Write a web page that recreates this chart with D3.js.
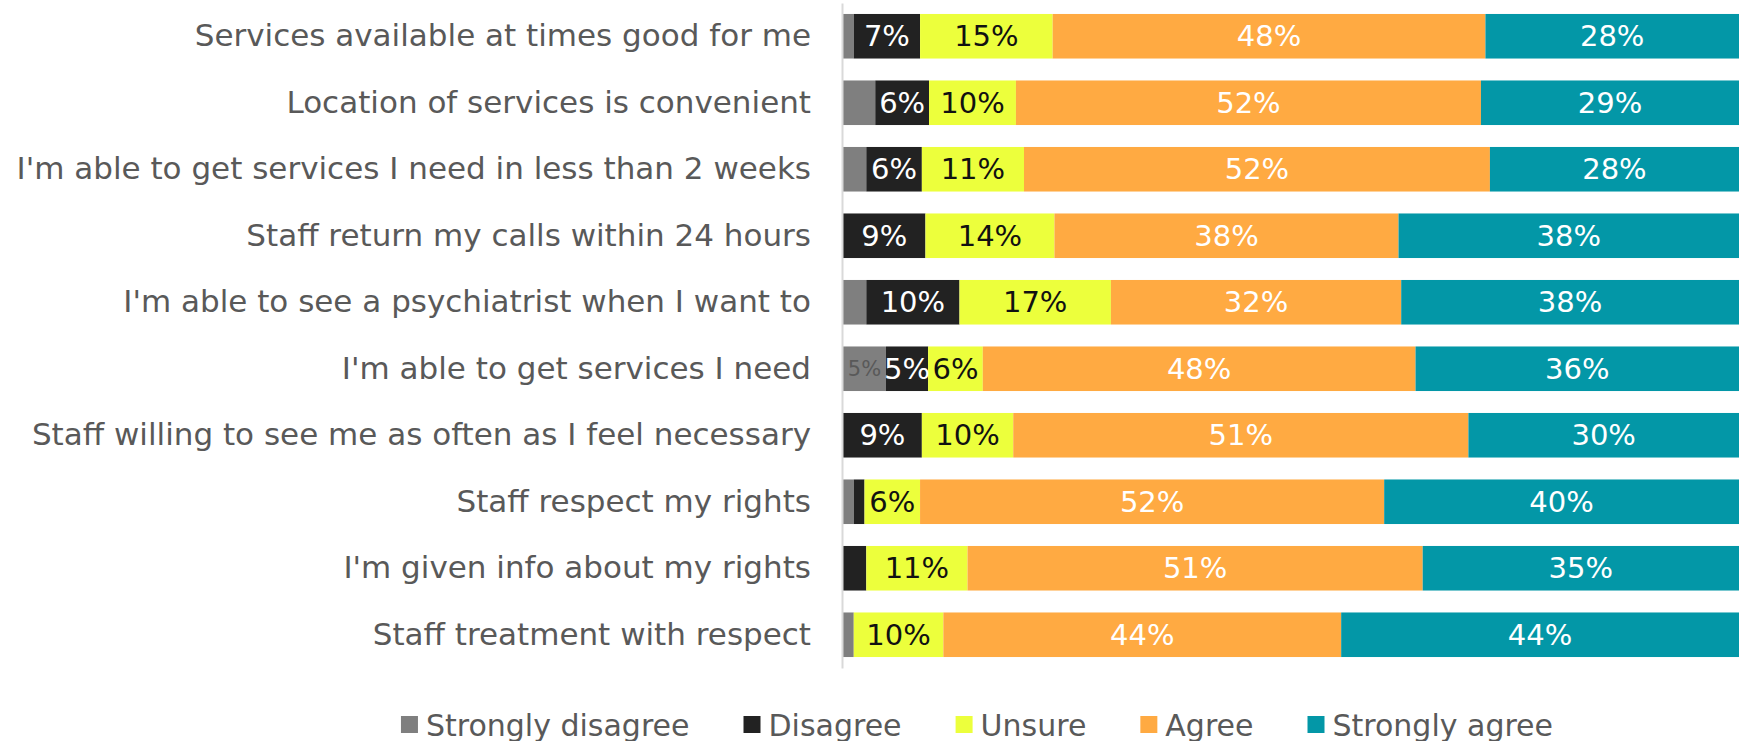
<!DOCTYPE html>
<html>
<head>
<meta charset="utf-8">
<script src="https://cdn.jsdelivr.net/npm/d3@7"></script>
<style>
  html, body { margin: 0; padding: 0; background: #ffffff; }
  svg { display: block; }
  text { font-family: "DejaVu Sans", sans-serif; }
</style>
</head>
<body>
<svg id="chart" width="1744" height="741"></svg>
<script>
// Survey statements, top to bottom
const categories = [
  "Services available at times good for me",
  "Location of services is convenient",
  "I'm able to get services I need in less than 2 weeks",
  "Staff return my calls within 24 hours",
  "I'm able to see a psychiatrist when I want to",
  "I'm able to get services I need",
  "Staff willing to see me as often as I feel necessary",
  "Staff respect my rights",
  "I'm given info about my rights",
  "Staff treatment with respect"
];

// Share of responses (%) per statement
const stronglyDisagree = [1.2, 3.6, 2.6, 0, 2.6, 4.8, 0, 1.2, 0, 1.2];
const disagree         = [7.4, 6.0, 6.2, 9.2, 10.4, 4.7, 8.8, 1.2, 2.6, 0];
const unsure           = [14.8, 9.7, 11.4, 14.4, 16.9, 6.1, 10.2, 6.2, 11.3, 10.0];
const agree            = [48.3, 51.9, 52.0, 38.4, 32.4, 48.3, 50.8, 51.8, 50.8, 44.4];
const stronglyAgree    = [28.3, 28.8, 27.8, 38.0, 37.7, 36.1, 30.2, 39.6, 35.3, 44.4];

const seriesNames = ["Strongly disagree", "Disagree", "Unsure", "Agree", "Strongly agree"];
const seriesValues = [stronglyDisagree, disagree, unsure, agree, stronglyAgree];
const seriesColors = ["#7f7f7f", "#222222", "#ecff3c", "#ffaa42", "#0397a7"];
const labelColors  = ["#595959", "#ffffff", "#111111", "#ffffff", "#ffffff"];
const labelSizes   = [21, 29, 29, 29, 29];

const svg = d3.select("#chart");

const rows = categories.map((c, i) => {
  const r = { category: c };
  seriesNames.forEach((s, k) => { r[s] = seriesValues[k][i]; });
  return r;
});
const stacked = d3.stack().keys(seriesNames)(rows);

const x = d3.scaleLinear().domain([0, 100]).range([843, 1739]);
const y = d3.scaleBand().domain(categories).range([3, 668])
  .paddingInner(0.33).paddingOuter(0.165);

// Segments
const layers = svg.append("g").selectAll("g")
  .data(stacked).join("g")
  .attr("fill", (d, k) => seriesColors[k]);

layers.selectAll("rect")
  .data(d => d.map(p => ({ p, cat: p.data.category })))
  .join("rect")
  .attr("x", d => x(d.p[0]))
  .attr("y", d => y(d.cat))
  .attr("width", d => Math.max(0, x(d.p[1]) - x(d.p[0])))
  .attr("height", y.bandwidth());

// Value labels (segments of roughly 5% and up)
const labelLayers = svg.append("g").selectAll("g")
  .data(stacked).join("g")
  .attr("fill", (d, k) => labelColors[k])
  .attr("font-size", (d, k) => labelSizes[k]);

labelLayers.selectAll("text")
  .data(d => d.filter(p => (p[1] - p[0]) >= 4.5).map(p => ({ p, cat: p.data.category })))
  .join("text")
  .attr("x", d => x((d.p[0] + d.p[1]) / 2))
  .attr("y", d => y(d.cat) + y.bandwidth() / 2)
  .attr("text-anchor", "middle")
  .attr("dominant-baseline", "central")
  .text(d => Math.round(d.p[1] - d.p[0]) + "%");

// Category axis
const yAxis = svg.append("g")
  .attr("transform", `translate(${x(0) - 1},0)`)
  .call(d3.axisLeft(y).tickSize(0).tickPadding(31));
yAxis.select(".domain").attr("stroke", "#d9d9d9").attr("stroke-width", 2);
yAxis.selectAll(".tick text")
  .attr("fill", "#595959")
  .attr("font-size", 31)
  .attr("font-family", "DejaVu Sans, sans-serif");

// Legend
const legend = svg.append("g");
const items = legend.selectAll("g").data(seriesNames).join("g");
items.append("rect")
  .attr("width", 17).attr("height", 17)
  .attr("y", 716)
  .attr("fill", (d, k) => seriesColors[k]);
items.append("text")
  .attr("x", 25)
  .attr("y", 725)
  .attr("dominant-baseline", "central")
  .attr("fill", "#595959")
  .attr("font-size", 30)
  .text(d => d);

const widths = [];
items.each(function () {
  widths.push(25 + d3.select(this).select("text").node().getComputedTextLength());
});
const gap = 54;
const total = d3.sum(widths) + gap * (widths.length - 1);
let cursor = 977 - total / 2;
items.attr("transform", (d, k) => {
  const t = `translate(${cursor},0)`;
  cursor += widths[k] + gap;
  return t;
});
</script>
</body>
</html>
